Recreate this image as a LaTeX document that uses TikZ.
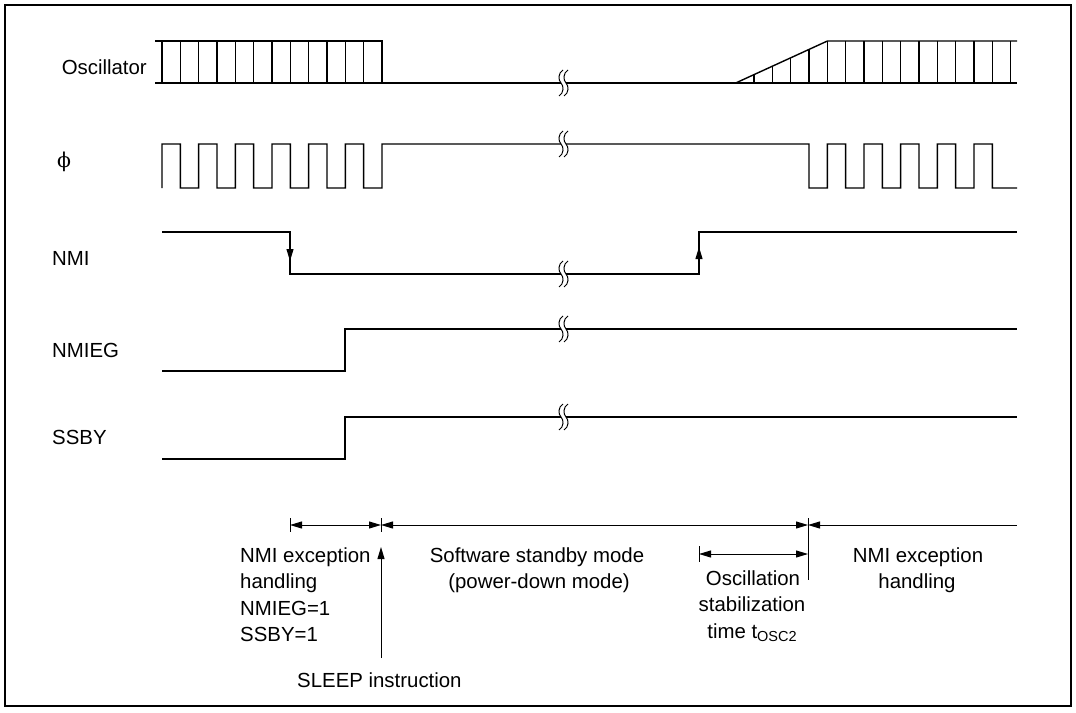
\documentclass[tikz,border=0pt]{standalone}
\usepackage{fontspec}
\setmainfont{Liberation Sans}
\newfontfamily\phifont{DejaVu Serif}
\usetikzlibrary{arrows.meta}
\begin{document}
\begin{tikzpicture}[x=1pt,y=-1pt,
  sig/.style={line width=1.4pt, line join=miter},
  dim/.style={line width=1pt},
  tipA/.tip={Triangle[length=12pt,width=7pt]},
  lbl/.style={inner sep=0pt, font=\fontsize{20.4}{24}\selectfont},
  brkline/.style={line width=1pt}]
\def\h{18.333}
\useasboundingbox (0,0) rectangle (1076,712);
\draw[line width=2pt] (5,5) rectangle (1071,706);

% ---------- labels ----------
\node[lbl, anchor=base east] (oscl) at (147,74) {Oscillator};
\node[lbl, anchor=base west] (phil) at (57,167) {\phifont ϕ};
\node[lbl, anchor=base west] (nmil) at (52,265) {NMI};
\node[lbl, anchor=base west] (nmiegl) at (52,357) {NMIEG};
\node[lbl, anchor=base west] (ssbyl) at (52,444) {SSBY};

% ---------- Oscillator ----------
\draw[sig] (155,41) -- (382,41) -- (382,83);
\draw[sig] (155,83) -- (1017,83);
\foreach \k in {0,...,11} \draw[sig] ({162+\k*\h},41) -- ({162+\k*\h},83);
\draw[sig] (735.7,83) -- (827.4,41) -- (1017,41);
\foreach \k in {1,...,4} \draw[sig] ({735.7+\k*\h},{83-42*\k*\h/91.7}) -- ({735.7+\k*\h},83);
\foreach \k in {0,...,10} \draw[sig] ({827.4+\k*\h},41) -- ({827.4+\k*\h},83);

% ---------- phi ----------
\draw[sig] (162,188)
  \foreach \k in {0,2,...,10}{ -- ({162+\k*\h},144) -- ({162+(\k+1)*\h},144) -- ({162+(\k+1)*\h},188) -- ({162+(\k+2)*\h},188) }
  -- (382,144) -- (809,144)
  \foreach \k in {0,2,...,8}{ -- ({809+\k*\h},188) -- ({809+(\k+1)*\h},188) -- ({809+(\k+1)*\h},144) -- ({809+(\k+2)*\h},144) }
  -- ({809+10*\h},188) -- (1017,188);

% ---------- NMI ----------
\draw[sig] (162,232) -- (290,232) -- (290,274) -- (699,274) -- (699,232) -- (1017,232);
\draw[dim,-tipA] (290,246) -- (290,261);
\draw[dim,-tipA] (699,262) -- (699,247);

% ---------- NMIEG / SSBY ----------
\draw[sig] (162,371) -- (345,371) -- (345,329) -- (1017,329);
\draw[sig] (162,459) -- (345,459) -- (345,417) -- (1017,417);

% ---------- break marks ----------
\foreach \yy in {83,144,274,329,417}{
  \fill[white] (561,\yy-2.5) rectangle (566,\yy+2.5);
  \foreach \cc in {561,566}{
    \draw[brkline] (\cc+2,\yy-13) .. controls (\cc-3,\yy-10) and (\cc-3,\yy-3) .. (\cc,\yy)
      .. controls (\cc+3,\yy+3) and (\cc+3,\yy+10) .. (\cc-2,\yy+13);
  }
}

% ---------- dimension lines ----------
\coordinate (a0) at (290,525);
\coordinate (a1) at (381,525);
\coordinate (a2) at (808,525);
\coordinate (a3) at (1017,525);
\coordinate (b0) at (699,554);
\coordinate (b1) at (808,554);
\coordinate (s0) at (381,658);
\coordinate (s1) at (381,547);
\draw[dim] (290,518) -- (290,532);
\draw[dim] (381,518) -- (381,532);
\draw[dim] (808,518) -- (808,580);
\draw[dim] (699,546) -- (699,562);
\draw[dim,tipA-tipA] (a0) -- (a1);
\draw[dim,tipA-tipA] (a1) -- (a2);
\draw[dim,tipA-] (a2) -- (a3);
\draw[dim,tipA-tipA] (b0) -- (b1);
\draw[dim,-tipA] (s0) -- (s1);

% ---------- bottom texts ----------
\node[lbl, anchor=base west] (t1) at (240,562) {NMI exception};
\node[lbl, anchor=base west] (t2) at (240,588.5) {handling};
\node[lbl, anchor=base west] (t3) at (240,615) {NMIEG=1};
\node[lbl, anchor=base west] (t4) at (240,641.5) {SSBY=1};
\node[lbl, anchor=base west] (t5) at (297,687) {SLEEP instruction};
\node[lbl, anchor=base] (t6) at (537,562) {Software standby mode};
\node[lbl, anchor=base] (t7) at (539,588.5) {(power-down mode)};
\node[lbl, anchor=base] (t8) at (753,585) {Oscillation};
\node[lbl, anchor=base] (t9) at (752,611.5) {stabilization};
\node[lbl, anchor=base] (t10) at (752,638) {time t\raisebox{-0.35ex}{\fontsize{14.5}{15}\selectfont OSC2}};
\node[lbl, anchor=base] (t11) at (918,562) {NMI exception};
\node[lbl, anchor=base] (t12) at (917,588.5) {handling};
\end{tikzpicture}
\end{document}
